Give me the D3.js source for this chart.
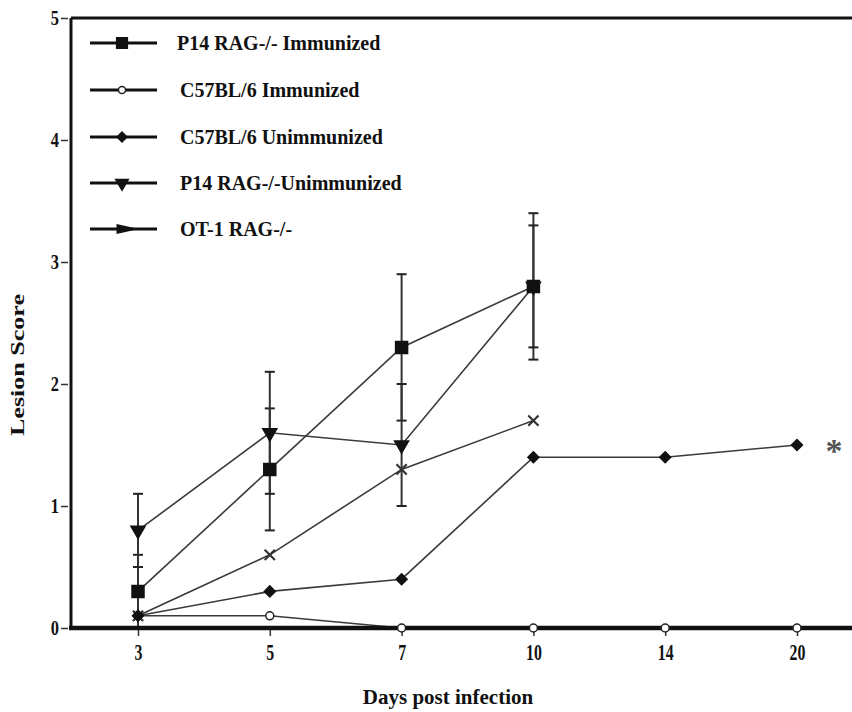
<!DOCTYPE html>
<html>
<head>
<meta charset="utf-8">
<script src="https://cdn.jsdelivr.net/npm/d3@7"></script>
<style>
  body { margin: 0; background: #fff; }
  svg { display: block; }
  text { font-family: "Liberation Serif", "DejaVu Serif", serif; font-weight: bold; fill: #111; }
</style>
</head>
<body>
<div id="chart"></div>
<script>

// values
var days = ["3", "5", "7", "10", "14", "20"];
var yTicks = [0, 1, 2, 3, 4, 5];

var p14Imm      = [0.3, 1.3, 2.3, 2.8, null, null];
var p14ImmErr   = [0.3, 0.5, 0.6, 0.6, null, null];
var c57Imm      = [0.1, 0.1, 0, 0, 0, 0];
var c57Unimm    = [0.1, 0.3, 0.4, 1.4, 1.4, 1.5];
var p14Unimm    = [0.8, 1.6, 1.5, 2.8, null, null];
var p14UnimmErr = [0.3, 0.5, 0.5, 0.5, null, null];
var ot1         = [0.1, 0.6, 1.3, 1.7, null, null];

var seriesNames = ["P14 RAG-/- Immunized", "C57BL/6 Immunized", "C57BL/6 Unimmunized",
                   "P14 RAG-/-Unimmunized", "OT-1 RAG-/-"];

var W = 852, H = 712;
var plotLeft = 71, plotTop = 18, plotBottom = 628;

var svg = d3.select("#chart").append("svg")
    .attr("width", W)
    .attr("height", H);

var xScale = d3.scalePoint()
    .domain(days)
    .range([138, 797]);

var yScale = d3.scaleLinear()
    .domain([0, 5])
    .range([plotBottom, plotTop]);

// marker look for each series
var markers = [
  { type: d3.symbolSquare, size: 144, fill: "#111", stroke: "#111", rot: 0 },
  { type: d3.symbolCircle, size: 50, fill: "#fff", stroke: "#222", rot: 0 },
  { type: d3.symbolSquare, size: 60, fill: "#111", stroke: "#111", rot: 45 },
  { type: d3.symbolTriangle, size: 85, fill: "#111", stroke: "#111", rot: 180 },
  { type: d3.symbolTimes, size: 70, fill: "none", stroke: "#333", rot: 0 }
];

var series = [
  { values: p14Imm, err: p14ImmErr },
  { values: c57Imm, err: null },
  { values: c57Unimm, err: null },
  { values: p14Unimm, err: p14UnimmErr },
  { values: ot1, err: null }
];

// axes
var yAxis = d3.axisLeft(yScale)
    .tickValues(yTicks)
    .tickFormat(d3.format("d"))
    .tickSize(7)
    .tickPadding(4);

var gy = svg.append("g")
    .attr("transform", "translate(" + (plotLeft - 3) + ",0)")
    .call(yAxis);
gy.select(".domain").remove();
gy.selectAll("line").attr("stroke", "#333").attr("stroke-width", 1.5);
gy.selectAll("text")
    .style("font-size", "20px")
    .attr("transform", "scale(0.82,1)");

var xAxis = d3.axisBottom(xScale)
    .tickSize(8)
    .tickPadding(7);

var gx = svg.append("g")
    .attr("transform", "translate(0," + plotBottom + ")")
    .call(xAxis);
gx.select(".domain").remove();
gx.selectAll("line").attr("stroke", "#333").attr("stroke-width", 1.5);
gx.selectAll("text")
    .style("font-size", "24px")
    .attr("transform", "scale(0.66,1)");

// lines
var line = d3.line()
    .defined(function(d) { return d != null; })
    .x(function(d, i) { return xScale(days[i]); })
    .y(function(d) { return yScale(d); });

series.forEach(function(s) {
  svg.append("path")
      .datum(s.values)
      .attr("d", line)
      .attr("fill", "none")
      .attr("stroke", "#3a3a3a")
      .attr("stroke-width", 1.6);
});

// error bars
series.forEach(function(s) {
  if (!s.err) return;
  s.values.forEach(function(v, i) {
    if (v == null) return;
    var cx = xScale(days[i]);
    var hi = yScale(v + s.err[i]), lo = yScale(Math.max(0, v - s.err[i]));
    svg.append("line")
        .attr("x1", cx).attr("x2", cx)
        .attr("y1", hi).attr("y2", lo)
        .attr("stroke", "#333").attr("stroke-width", 2);
    [hi, lo].forEach(function(yy) {
      svg.append("line")
          .attr("x1", cx - 5).attr("x2", cx + 5)
          .attr("y1", yy).attr("y2", yy)
          .attr("stroke", "#222").attr("stroke-width", 2);
    });
  });
});

// frame (left, top, bottom)
svg.append("line")
    .attr("x1", plotLeft).attr("x2", plotLeft)
    .attr("y1", plotTop).attr("y2", plotBottom)
    .attr("stroke", "#111").attr("stroke-width", 3);
svg.append("line")
    .attr("x1", plotLeft).attr("x2", W)
    .attr("y1", plotTop).attr("y2", plotTop)
    .attr("stroke", "#111").attr("stroke-width", 3);
svg.append("line")
    .attr("x1", plotLeft - 2).attr("x2", W)
    .attr("y1", plotBottom).attr("y2", plotBottom)
    .attr("stroke", "#111").attr("stroke-width", 4.5);

// markers
function drawMarker(g, m, x, y, scale) {
  g.append("path")
      .attr("d", d3.symbol().type(m.type).size(m.size * (scale || 1))())
      .attr("transform", "translate(" + x + "," + y + ") rotate(" + m.rot + ")")
      .attr("fill", m.fill)
      .attr("stroke", m.stroke)
      .attr("stroke-width", m.type === d3.symbolTimes ? 2.2 : 1.5);
}

// stacking order: crosses, triangles, circles, diamonds, squares on top
[4, 3, 1, 2, 0].forEach(function(k) {
  series[k].values.forEach(function(v, i) {
    if (v == null) return;
    drawMarker(svg, markers[k], xScale(days[i]), yScale(v));
  });
});

// significance mark
svg.append("text")
    .attr("x", xScale("20") + 37)
    .attr("y", yScale(c57Unimm[5]) + 17)
    .attr("text-anchor", "middle")
    .style("font-size", "34px")
    .style("fill", "#555")
    .text("*");

// legend
var legend = svg.append("g");
var rowY = [43, 90, 137, 183, 229];
seriesNames.forEach(function(name, k) {
  var y = rowY[k];
  legend.append("line")
      .attr("x1", 90).attr("x2", 157)
      .attr("y1", y).attr("y2", y)
      .attr("stroke", "#111").attr("stroke-width", 3);
  if (k === 4) {
    legend.append("path")
        .attr("d", d3.symbol().type(d3.symbolTriangle).size(90)())
        .attr("transform", "translate(124," + y + ") rotate(90) scale(0.7,1.8)")
        .attr("fill", "#111");
  } else {
    drawMarker(legend, markers[k], 122, y, 0.8);
  }
  legend.append("text")
      .attr("x", k === 0 ? 177 : 180)
      .attr("y", y + 7)
      .style("font-size", "20px")
      .text(name);
});

// axis titles
svg.append("text")
    .attr("x", 448)
    .attr("y", 704)
    .attr("text-anchor", "middle")
    .style("font-size", "21px")
    .text("Days post infection");

svg.append("text")
    .attr("transform", "translate(24,365) rotate(-90)")
    .attr("text-anchor", "middle")
    .attr("textLength", 142)
    .attr("lengthAdjust", "spacingAndGlyphs")
    .style("font-size", "19px")
    .text("Lesion Score");

</script>
</body>
</html>
